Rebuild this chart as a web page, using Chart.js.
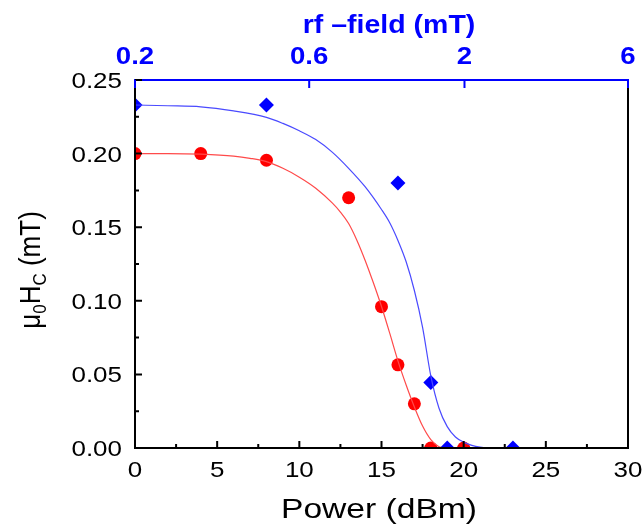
<!DOCTYPE html>
<html>
<head>
<meta charset="utf-8">
<script src="https://cdn.jsdelivr.net/npm/chart.js@4/dist/chart.umd.min.js"></script>
<style>
  html, body { margin: 0; padding: 0; background: #fff; }
  #wrap { width: 644px; height: 527px; }
</style>
</head>
<body>
<div id="wrap"><canvas id="hcChart" width="644" height="527"></canvas></div>
<script>
// measured points
const redPower = [0, 4, 8, 13, 15, 16, 17, 18, 20];
const redHc = [0.200, 0.200, 0.1955, 0.170, 0.096, 0.0565, 0.030, 0, 0];
const bluePower = [0, 8, 16, 18, 19, 23];
const blueHc = [0.233, 0.233, 0.180, 0.0445, 0, 0];

// fitted curves
const redFitPower = [0, 2, 4, 6, 7, 8, 9, 10, 11, 12, 12.5, 13, 13.5, 14, 14.5, 15, 15.5, 16, 16.5, 17, 17.5, 18, 18.5, 19, 20];
const redFitHc = [0.2000, 0.2000, 0.1996, 0.1983, 0.1968, 0.1945, 0.1900, 0.1840, 0.1765, 0.1665, 0.1603, 0.1525, 0.1412, 0.1276, 0.1124, 0.0961, 0.0780, 0.0592, 0.0428, 0.0279, 0.0149, 0.0057, 0.0009, 0, 0];
const blueFitPower = [0, 2, 4, 6, 8, 9, 10, 11, 12, 13, 14, 15, 15.5, 16, 16.5, 17, 17.5, 18, 18.5, 19, 19.5, 20, 20.5, 21, 21.5, 22, 23];
const blueFitHc = [0.2330, 0.2325, 0.2318, 0.2290, 0.2246, 0.2205, 0.2155, 0.2095, 0.2010, 0.1900, 0.1775, 0.1620, 0.1530, 0.1410, 0.1265, 0.1070, 0.0820, 0.0490, 0.0270, 0.0145, 0.0075, 0.0040, 0.0018, 0.0006, 0.0001, 0, 0];

// axis ticks
const xTicks = [0, 5, 10, 15, 20, 25, 30];
const yTicks = [0, 0.05, 0.10, 0.15, 0.20, 0.25];
const yTickLabels = ['0.00', '0.05', '0.10', '0.15', '0.20', '0.25'];
const rfTickPower = [0, 10.6, 20.05, 30];
const rfTickLabels = ['0.2', '0.6', '2', '6'];

const RED = '#ff0000';
const BLUE = '#0000ff';
const FONT = '"Liberation Sans", Arial, sans-serif';

function pts(xs, ys) {
    return xs.map((x, i) => ({ x: x, y: ys[i] }));
}

function stretchText(ctx, text, x, y, font, color, align, sx) {
    ctx.save();
    ctx.font = font;
    ctx.fillStyle = color;
    ctx.textBaseline = 'alphabetic';
    const w = ctx.measureText(text).width * sx;
    let left = x;
    if (align === 'center') left = x - w / 2;
    if (align === 'right') left = x - w;
    ctx.translate(left, y);
    ctx.scale(sx, 1);
    ctx.fillText(text, 0, 0);
    ctx.restore();
}

const framePlugin = {
    id: 'frame',
    afterDatasetsDraw(chart) {
        const ctx = chart.ctx;
        const a = chart.chartArea;
        const xs = chart.scales.x, ys = chart.scales.y, x2 = chart.scales.x2;
        ctx.save();
        ctx.lineCap = 'butt';

        // frame
        ctx.lineWidth = 2;
        ctx.strokeStyle = '#000';
        ctx.beginPath();
        ctx.moveTo(a.left, a.top);
        ctx.lineTo(a.left, a.bottom);
        ctx.lineTo(a.right, a.bottom);
        ctx.lineTo(a.right, a.top);
        ctx.stroke();
        ctx.strokeStyle = BLUE;
        ctx.beginPath();
        ctx.moveTo(a.left - 1, a.top);
        ctx.lineTo(a.right + 1, a.top);
        ctx.stroke();

        // bottom ticks (inward)
        ctx.strokeStyle = '#000';
        ctx.beginPath();
        xTicks.forEach((v, i) => {
            const px = xs.getPixelForValue(v);
            ctx.moveTo(px, a.bottom);
            ctx.lineTo(px, a.bottom - 7);
            if (i < xTicks.length - 1) {
                const pm = xs.getPixelForValue((v + xTicks[i + 1]) / 2);
                ctx.moveTo(pm, a.bottom);
                ctx.lineTo(pm, a.bottom - 4);
            }
        });
        // left ticks
        yTicks.forEach((v, i) => {
            const py = ys.getPixelForValue(v);
            ctx.moveTo(a.left, py);
            ctx.lineTo(a.left + 7, py);
            if (i < yTicks.length - 1) {
                const pm = ys.getPixelForValue((v + yTicks[i + 1]) / 2);
                ctx.moveTo(a.left, pm);
                ctx.lineTo(a.left + 4, pm);
            }
        });
        ctx.stroke();

        // top ticks
        ctx.strokeStyle = BLUE;
        ctx.beginPath();
        rfTickPower.forEach(v => {
            const px = x2.getPixelForValue(v);
            ctx.moveTo(px, a.top);
            ctx.lineTo(px, a.top + 8);
        });
        ctx.stroke();

        // tick labels
        xTicks.forEach(v => {
            stretchText(ctx, String(v), xs.getPixelForValue(v), 477, '22px ' + FONT, '#000', 'center', 1.18);
        });
        yTicks.forEach((v, i) => {
            stretchText(ctx, yTickLabels[i], 122, ys.getPixelForValue(v) + 8, '22px ' + FONT, '#000', 'right', 1.18);
        });
        rfTickPower.forEach((v, i) => {
            stretchText(ctx, rfTickLabels[i], x2.getPixelForValue(v), 64, 'bold 24px ' + FONT, BLUE, 'center', 1.15);
        });

        // titles
        stretchText(ctx, 'rf \u2013field (mT)', 389, 33, 'bold 25px ' + FONT, BLUE, 'center', 1.14);
        stretchText(ctx, 'Power (dBm)', 379, 518, '28px ' + FONT, '#000', 'center', 1.2);

        // y title with subscripts
        const runs = [
            { t: '\u03bc', size: 26, dy: 0 },
            { t: '0', size: 17, dy: 5 },
            { t: 'H', size: 26, dy: 0 },
            { t: 'C', size: 17, dy: 5 },
            { t: ' (mT)', size: 26, dy: 0 }
        ];
        let total = 0;
        runs.forEach(r => {
            ctx.font = r.size + 'px ' + FONT;
            r.w = ctx.measureText(r.t).width;
            total += r.w;
        });
        ctx.save();
        ctx.translate(40, 270);
        ctx.rotate(-Math.PI / 2);
        ctx.scale(1, 1.1);
        ctx.fillStyle = '#000';
        let cx = -total / 2;
        runs.forEach(r => {
            ctx.font = r.size + 'px ' + FONT;
            ctx.fillText(r.t, cx, r.dy);
            cx += r.w;
        });
        ctx.restore();

        ctx.restore();
    }
};

const hidden = {
    ticks: { display: false },
    grid: { display: false, drawTicks: false },
    border: { display: false }
};

new Chart(document.getElementById('hcChart'), {
    type: 'scatter',
    data: {
        datasets: [
            {
                label: 'red fit',
                data: pts(redFitPower, redFitHc),
                showLine: true,
                borderColor: '#ff4a4a',
                borderWidth: 1.2,
                pointRadius: 0,
                cubicInterpolationMode: 'monotone'
            },
            {
                label: 'blue fit',
                data: pts(blueFitPower, blueFitHc),
                showLine: true,
                borderColor: '#4a4aff',
                borderWidth: 1.2,
                pointRadius: 0,
                cubicInterpolationMode: 'monotone'
            },
            {
                label: 'red',
                data: pts(redPower, redHc),
                pointStyle: 'circle',
                pointRadius: 6.5,
                backgroundColor: RED,
                borderColor: RED,
                borderWidth: 0,
                clip: 0
            },
            {
                label: 'blue',
                data: pts(bluePower, blueHc),
                pointStyle: 'rectRot',
                pointRadius: 7.5,
                backgroundColor: BLUE,
                borderColor: BLUE,
                borderWidth: 0,
                clip: 0
            }
        ]
    },
    options: {
        responsive: false,
        devicePixelRatio: 1,
        animation: false,
        layout: { padding: { left: 0, right: 16, top: 0, bottom: 0 } },
        plugins: { legend: { display: false }, tooltip: { enabled: false } },
        scales: {
            x: Object.assign({ type: 'linear', position: 'bottom', min: 0, max: 30,
                afterFit: s => { s.height = 79; } }, hidden),
            x2: Object.assign({ type: 'linear', position: 'top', min: 0, max: 30,
                afterFit: s => { s.height = 80; } }, hidden),
            y: Object.assign({ type: 'linear', min: 0, max: 0.25,
                afterFit: s => { s.width = 135; } }, hidden)
        }
    },
    plugins: [framePlugin]
});
</script>
</body>
</html>
